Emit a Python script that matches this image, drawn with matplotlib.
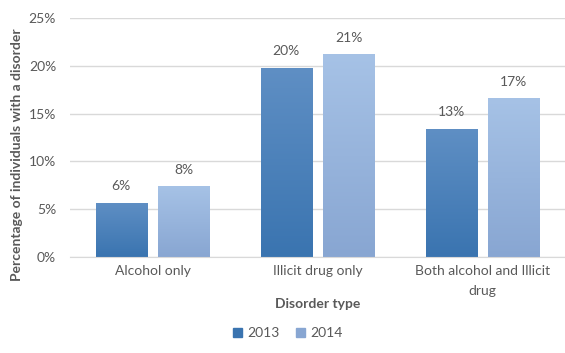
import numpy as np
import matplotlib
matplotlib.use("Agg")
import matplotlib.pyplot as plt
from matplotlib.colors import LinearSegmentedColormap
from matplotlib.patches import Patch

plt.rcParams['font.family'] = ['Lato', 'DejaVu Sans']

# data
categories = ['Alcohol only', 'Illicit drug only', 'Both alcohol and Illicit\ndrug']
years = ['2013', '2014']
vals_2013 = [5.7, 19.8, 13.4]
vals_2014 = [7.4, 21.2, 16.6]
labels_2013 = ['6%', '20%', '13%']
labels_2014 = ['8%', '21%', '17%']

text_col = '#595959'
grid_col = '#d9d9d9'
# (top colour, bottom colour) for the gradient fills
grad_2013 = ('#5f8fc4', '#3a74b0')
grad_2014 = ('#a6c2e6', '#88a6d2')

fig = plt.figure(figsize=(5.65, 3.53), dpi=100)
ax = fig.add_axes([70/565, 96/353, 495/565, 239/353])

x = np.arange(len(categories))
w = 0.31
off = 0.19

def gradient_bars(xpos, vals, grad, labels):
    bars = ax.bar(xpos, vals, w, color='none', edgecolor='none', zorder=2)
    cmap = LinearSegmentedColormap.from_list('g', [grad[1], grad[0]])
    g = np.linspace(0, 1, 256).reshape(-1, 1)
    for b, lab in zip(bars, labels):
        x0, h = b.get_x(), b.get_height()
        im = ax.imshow(g, cmap=cmap, origin='lower', aspect='auto',
                       extent=[x0, x0 + b.get_width(), 0, h], zorder=2)
        im.set_clip_path(b)
        ax.text(x0 + b.get_width() / 2, h + 1.1, lab, ha='center', va='bottom',
                fontsize=10, color=text_col)
    return bars

gradient_bars(x - off, vals_2013, grad_2013, labels_2013)
gradient_bars(x + off, vals_2014, grad_2014, labels_2014)

ax.set_xlim(-0.5, 2.5)
ax.set_ylim(0, 25)
ax.set_yticks(np.arange(0, 26, 5))
ax.set_yticklabels([f'{v}%' for v in range(0, 26, 5)])
ax.set_xticks(x)
ax.set_xticklabels(categories, linespacing=1.8, va='top')
ax.tick_params(length=0, labelsize=10, colors=text_col, pad=6)
ax.tick_params(axis='y', pad=10)
ax.yaxis.grid(True, color=grid_col, lw=1)
ax.set_axisbelow(True)
for s in ['top', 'right', 'left']:
    ax.spines[s].set_visible(False)
ax.spines['bottom'].set_color(grid_col)

ax.set_xlabel('Disorder type', fontsize=10, fontweight='bold', color=text_col, va='center')
ax.xaxis.set_label_coords(0.5, -47/239)
ax.set_ylabel('Percentage of individuals with a disorder', fontsize=10,
              fontweight='bold', color=text_col, va='center')
ax.yaxis.set_label_coords(-53/495, 0.43)

handles = [Patch(color=grad_2013[1]), Patch(color=grad_2014[1])]
fig.legend(handles, years, loc='center', bbox_to_anchor=(288/565, 1 - 333/353),
           ncol=2, frameon=False, fontsize=10, labelcolor=text_col,
           handlelength=0.6, handleheight=0.6, handletextpad=0.4, columnspacing=1.2)

fig.savefig('out.png', dpi=100, facecolor='white')
